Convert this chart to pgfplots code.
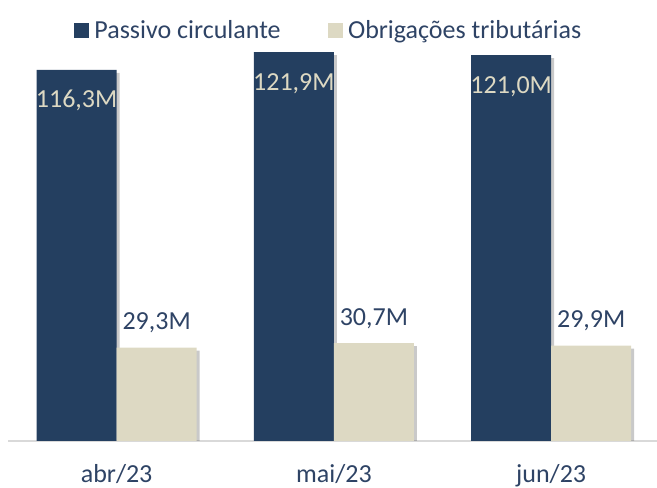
\documentclass[border=0pt]{standalone}
\usepackage{fontspec}
\setmainfont{Carlito}
\usepackage{pgfplots}
\usepackage{pgfplotstable}
\pgfplotsset{compat=1.18}
\usetikzlibrary{shadows}
\definecolor{navy}{HTML}{243F60}
\definecolor{tanc}{HTML}{DDD9C3}
\definecolor{txt}{HTML}{2E4365}
\definecolor{axgray}{HTML}{D9D9D9}

\pgfplotstableread{
x y label
0 116.3 116,3M
1 121.9 121,9M
2 121.0 121,0M
}\passivo
\pgfplotstableread{
x y label
0 29.3 29,3M
1 30.7 30,7M
2 29.9 29,9M
}\obrig

\begin{document}
\begin{tikzpicture}
\useasboundingbox (0,0) rectangle (657bp,488bp);
\begin{axis}[
  at={(8bp,47bp)}, anchor=south west,
  scale only axis, width=649bp, height=414.7bp,
  xmin=-0.5, xmax=2.487, ymin=0, ymax=130,
  ybar=0pt, bar width=80bp,
  axis y line=none, axis x line*=bottom,
  x axis line style={draw=axgray, line width=1.2bp, -},
  xtick={0,1,2}, xticklabels={abr/23,mai/23,jun/23},
  major tick length=0pt,
  xticklabel style={anchor=base, yshift=-41bp, text=txt, font=\fontsize{26bp}{31bp}\selectfont},
  legend columns=2,
  legend style={draw=none, fill=none, at={(0.494,0.991)}, anchor=center,
    font=\fontsize{26bp}{31bp}\selectfont, text=txt,
    /tikz/every odd column/.append style={column sep=4bp},
    /tikz/every even column/.append style={column sep=45bp}},
  legend cell align=left,
]
\addplot[fill=navy, draw=none, bar shift=-40bp, forget plot,
  drop shadow={shadow xshift=3bp, shadow yshift=-3bp, opacity=0.3, fill=black!70},
  nodes near coords, point meta=explicit symbolic,
  nodes near coords style={anchor=base, yshift=-38bp, text=tanc, font=\fontsize{26bp}{31bp}\selectfont}]
  table[x=x, y=y, meta=label]{\passivo};
\addplot[fill=tanc, draw=none, bar shift=40bp, forget plot,
  drop shadow={shadow xshift=3bp, shadow yshift=-3bp, opacity=0.3, fill=black!70},
  nodes near coords, point meta=explicit symbolic,
  nodes near coords style={anchor=base, yshift=17.7bp, text=txt, font=\fontsize{26bp}{31bp}\selectfont}]
  table[x=x, y=y, meta=label]{\obrig};
\addlegendimage{legend image code/.code={\fill[navy] (0bp,-7bp) rectangle (14bp,7bp);}}
\addlegendentry{Passivo circulante}
\addlegendimage{legend image code/.code={\fill[tanc] (0bp,-7bp) rectangle (14bp,7bp);}}
\addlegendentry{Obrigações tributárias}
\end{axis}
\end{tikzpicture}
\end{document}
